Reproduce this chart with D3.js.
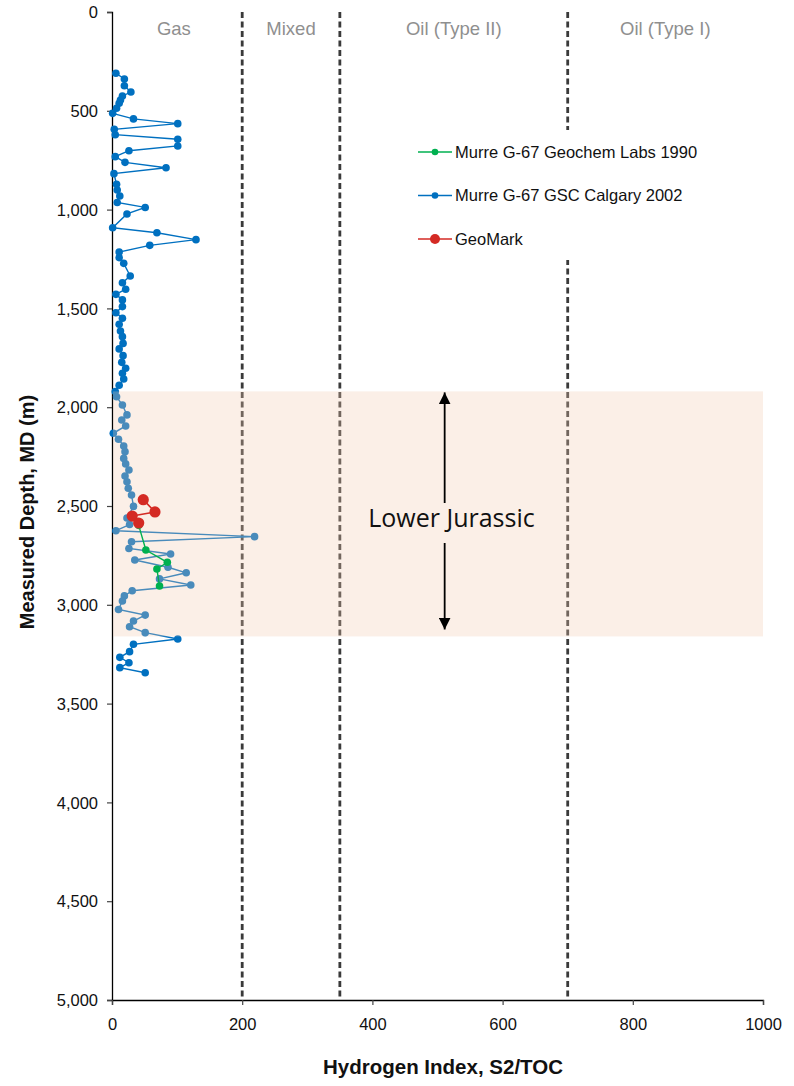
<!DOCTYPE html>
<html><head><meta charset="utf-8">
<script src="https://cdn.jsdelivr.net/npm/d3@7"></script>
<style>body{margin:0;background:#fff}svg{display:block}</style>
</head><body>
<svg id="c" width="794" height="1086"></svg>
<script>
// ---- data ----
const blueDepth = [310,339,373,405,425,445,462,487,513,541,565,594,621,644,678,702,732,761,788,818,872,901,931,964,989,1022,1092,1117,1152,1181,1215,1243,1272,1336,1370,1403,1429,1457,1491,1522,1550,1580,1614,1643,1677,1705,1739,1773,1803,1828,1857,1889,1921,1947,1989,2039,2065,2095,2132,2162,2196,2225,2259,2287,2318,2348,2377,2410,2444,2502,2561,2594,2625,2655,2681,2715,2743,2773,2810,2838,2869,2900,2929,2955,2981,3024,3052,3082,3111,3141,3173,3200,3237,3266,3293,3318,3344];
const blueHI = [6,19,19,29,16,13,11,7,1,33,101,3.5,5,101,101,26,5,20,83,3,7,8,12,8,51,23,1,69,129,58,11,11,18,28,16,21,6,16,16,6,16,11,13,16,17,11,17,15,21,16,18,11,5,7,16,23,15,21,2,10,18,20,18,21,26,20,23,25,30,33,23,27,6,219,30,26,90,35,86,114,73,121,31,19,16,10,51,33,27,51,101,33,27,12,26,12,51];
const greenDepth = [2598,2723,2785,2819,2905];
const greenHI = [41,52,85,69,73];
const redDepth = [2468,2530,2551,2586];
const redHI = [48,66,31,41];
const xTicks = [0,200,400,600,800,1000];
const yTicks = [0,500,1000,1500,2000,2500,3000,3500,4000,4500,5000];
const zoneBounds = [200,350,700];
const zoneNames = ["Gas","Mixed","Oil (Type II)","Oil (Type I)"];
const zoneCenters = [95,275,525,850];
const jurassicTop = 1920, jurassicBase = 3160;
const seriesNames = ["Murre G-67 Geochem Labs 1990","Murre G-67 GSC Calgary 2002","GeoMark"];
const seriesColors = ["#00B050","#0070C0","#D42A24"];

// ---- scales ----
const svg = d3.select("#c");
const x = d3.scaleLinear().domain([0,1000]).range([112,763]);
const y = d3.scaleLinear().domain([0,5000]).range([12,1000]);
const font = "Arial, 'Liberation Sans', sans-serif";

// axes
const yAx = svg.append("g").attr("transform","translate(112,0)")
  .call(d3.axisLeft(y).tickValues(yTicks).tickSize(5).tickPadding(9).tickFormat(d3.format(",")));
const xAx = svg.append("g").attr("transform","translate(0,1000)")
  .call(d3.axisBottom(x).tickValues(xTicks).tickSize(5).tickPadding(13).tickFormat(d=>d));
[yAx,xAx].forEach(a=>{
  a.select(".domain").attr("stroke","#000").attr("stroke-width",1.3);
  a.selectAll(".tick line").attr("stroke","#444").attr("stroke-width",1.2);
  a.selectAll("text").attr("font-family",font).attr("font-size",16.5).attr("fill","#111");
});
yAx.selectAll("text").attr("dy","0.34em");

// zone dashed lines
svg.append("g").selectAll("line").data(zoneBounds).join("line")
  .attr("x1",d=>x(d)).attr("x2",d=>x(d)).attr("y1",y(0)).attr("y2",y(5000))
  .attr("stroke","#3a3a3a").attr("stroke-width",2.8).attr("stroke-dasharray","6,3.5");

// zone labels
svg.append("g").selectAll("text").data(zoneNames).join("text")
  .attr("x",(d,i)=>x(zoneCenters[i])).attr("y",35).attr("text-anchor","middle")
  .attr("font-family",font).attr("font-size",18.5).attr("fill","#8f8f8f").text(d=>d);

// series helper
function drawSeries(depths, his, color, r, lw){
  const pts = depths.map((d,i)=>[his[i],d]);
  const g = svg.append("g");
  g.append("path").datum(pts)
    .attr("d",d3.line().x(p=>x(p[0])).y(p=>y(p[1])))
    .attr("fill","none").attr("stroke",color).attr("stroke-width",lw);
  g.selectAll("circle").data(pts).join("circle")
    .attr("cx",p=>x(p[0])).attr("cy",p=>y(p[1])).attr("r",r).attr("fill",color);
}
drawSeries(blueDepth, blueHI, seriesColors[1], 3.8, 1.4);

// Lower Jurassic band (semi-transparent overlay)
svg.append("rect").attr("x",x(0)+1).attr("y",y(jurassicTop))
  .attr("width",x(1000)-x(0)-1).attr("height",y(jurassicBase)-y(jurassicTop))
  .attr("fill","#F2C9AE").attr("opacity",0.3);

drawSeries(greenDepth, greenHI, seriesColors[0], 3.8, 1.4);
drawSeries(redDepth, redHI, seriesColors[2], 5.6, 1.6);

// Lower Jurassic annotation
const ax = x(511);
const defs = svg.append("defs");
defs.append("marker").attr("id","ah").attr("viewBox","0 0 10 10").attr("refX",10).attr("refY",5)
  .attr("markerWidth",6.5).attr("markerHeight",6.5).attr("orient","auto-start-reverse")
  .attr("markerUnits","strokeWidth")
  .append("path").attr("d","M0,0 L10,5 L0,10 z").attr("fill","#000");
svg.append("line").attr("x1",ax).attr("x2",ax).attr("y1",503).attr("y2",y(1925))
  .attr("stroke","#000").attr("stroke-width",1.8).attr("marker-end","url(#ah)");
svg.append("line").attr("x1",ax).attr("x2",ax).attr("y1",543).attr("y2",y(3125))
  .attr("stroke","#000").attr("stroke-width",1.8).attr("marker-end","url(#ah)");
svg.append("text").attr("x",451.5).attr("y",527).attr("text-anchor","middle")
  .attr("font-family","'Open Sans', 'Noto Sans', sans-serif").attr("font-size",25)
  .attr("fill","#111").text("Lower Jurassic");

// legend
const lg = svg.append("g");
lg.append("rect").attr("x",406).attr("y",130).attr("width",312).attr("height",130).attr("fill","#fff");
const order = [0,1,2];
order.forEach((k,i)=>{
  const yy = 152 + i*43.5;
  lg.append("line").attr("x1",418).attr("x2",452).attr("y1",yy).attr("y2",yy)
    .attr("stroke",seriesColors[k]).attr("stroke-width",1.5);
  lg.append("circle").attr("cx",435).attr("cy",yy).attr("r",k===2?5:3.3).attr("fill",seriesColors[k]);
  lg.append("text").attr("x",455).attr("y",yy).attr("dy","0.35em")
    .attr("font-family",font).attr("font-size",16.5).attr("fill","#111").text(seriesNames[k]);
});

// axis titles
svg.append("text").attr("x",443).attr("y",1074).attr("text-anchor","middle")
  .attr("font-family",font).attr("font-size",20.5).attr("font-weight","bold").attr("fill","#111")
  .text("Hydrogen Index, S2/TOC");
svg.append("text").attr("transform","translate(34,512) rotate(-90)")
  .attr("text-anchor","middle")
  .attr("font-family",font).attr("font-size",20).attr("font-weight","bold").attr("fill","#111")
  .text("Measured Depth, MD (m)");
</script>
</body></html>
